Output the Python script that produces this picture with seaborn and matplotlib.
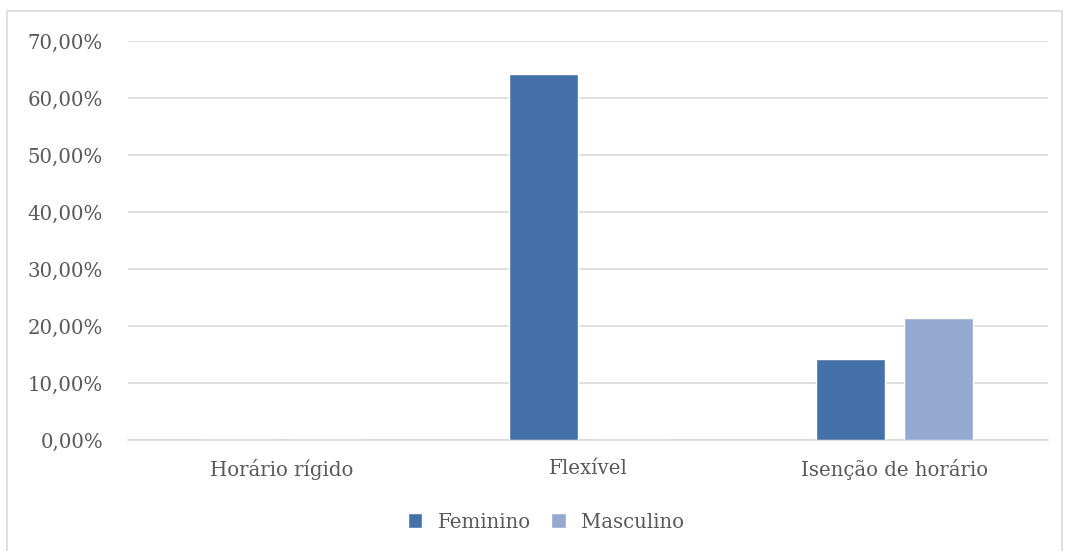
import matplotlib
matplotlib.use("Agg")
import matplotlib.pyplot as plt
from matplotlib.patches import Rectangle
from matplotlib.ticker import FuncFormatter
import seaborn as sns
import pandas as pd

categories = ["Horário rígido", "Flexível", "Isenção de horário"]
feminino = [0.0, 0.6429, 0.1429]
masculino = [0.0, 0.0, 0.2143]
series_names = ["Feminino", "Masculino"]
y_ticks = [0.0, 0.1, 0.2, 0.3, 0.4, 0.5, 0.6, 0.7]

df = pd.DataFrame({
    "categoria": categories * 2,
    "valor": feminino + masculino,
    "sexo": [series_names[0]] * 3 + [series_names[1]] * 3,
})

sns.set_theme(style="white")
plt.rcParams["font.family"] = ["DejaVu Serif"]

W, H = 1065, 551
FS = 14.2
fig = plt.figure(figsize=(W / 100, H / 100), dpi=100)
fig.patch.set_facecolor("white")

# light outer frame of the chart area
fig.patches.append(Rectangle((7 / W, -0.05), 1055 / W, 1.05 - 11 / H,
                             transform=fig.transFigure, fill=False,
                             edgecolor="#d9d9d9", linewidth=1.2, zorder=0))

ax = fig.add_axes([128 / W, (H - 440) / H, 920 / W, 399 / H])

palette = {"Feminino": "#4472a8", "Masculino": "#95a9d0"}
sns.barplot(data=df, x="categoria", y="valor", hue="sexo", order=categories,
            hue_order=series_names, palette=palette, width=0.574, gap=0.216,
            saturation=1, ax=ax, zorder=3, legend=True)

ax.set_xlim(-0.5, 2.5)
ax.set_ylim(0, 0.7)
ax.set_yticks(y_ticks)
ax.yaxis.set_major_formatter(FuncFormatter(lambda v, _: f"{v*100:.2f}%".replace(".", ",")))
ax.grid(axis="y", color="#d9d9d9", linewidth=1.2, zorder=0)
ax.set_axisbelow(True)
for s in ["top", "right", "left"]:
    ax.spines[s].set_visible(False)
ax.spines["bottom"].set_color("#d9d9d9")
ax.spines["bottom"].set_linewidth(1.2)
ax.set_xlabel("")
ax.set_ylabel("")
ax.tick_params(axis="both", length=0, labelsize=FS, labelcolor="#595959")
ax.tick_params(axis="y", pad=18)
ax.tick_params(axis="x", pad=14)

handles, labels = ax.get_legend_handles_labels()
ax.get_legend().remove()
fig.legend(handles, labels, loc="center", bbox_to_anchor=(546 / W, 1 - 522 / H),
           ncol=2, frameon=False, fontsize=FS, labelcolor="#595959",
           handlelength=0.75, handleheight=0.75, handletextpad=0.8, columnspacing=1.0)

fig.savefig("out.png", dpi=100)
